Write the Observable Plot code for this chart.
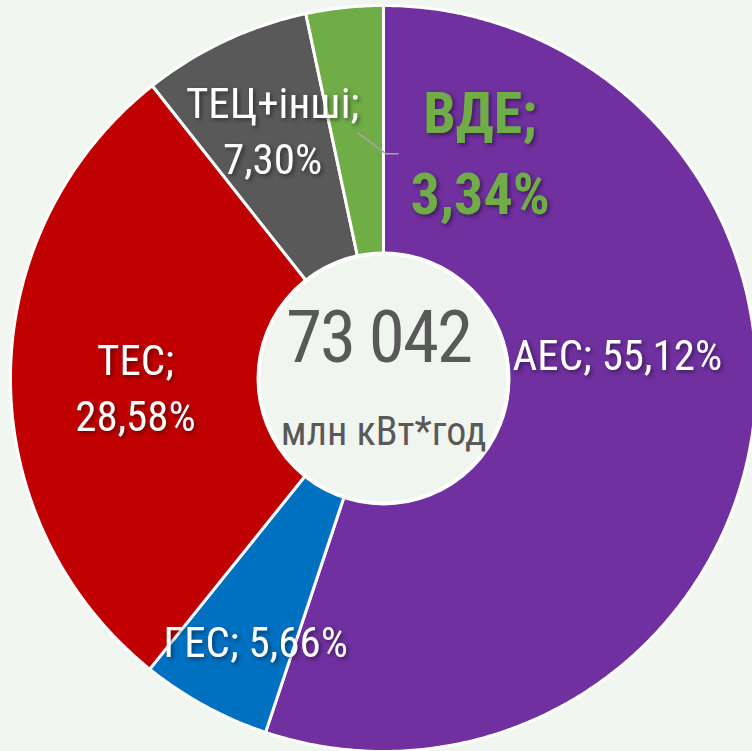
<!DOCTYPE html>
<html><head><meta charset="utf-8">
<script src="https://cdn.jsdelivr.net/npm/d3@7"></script>
<script src="https://cdn.jsdelivr.net/npm/@observablehq/plot@0.6"></script>
<style>
html,body{margin:0;padding:0;background:#f2f6f0;}
#chart svg{display:block;}
</style></head><body><div id="chart"></div>
<script>
// ---- data ----
const categories = ["АЕС", "ГЕС", "ТЕС", "ТЕЦ+інші", "ВДЕ"];
const shares = [55.12, 5.66, 28.58, 7.30, 3.34];
const colors = ["#7030a0", "#0070c0", "#c00000", "#595959", "#70ad47"];
const totalValue = "73 042";
const totalUnit = "млн кВт*год";

// ---- layout ----
const W = 752, H = 751, CX = 383, CY = 378, R = 373, R0 = 125;
const FONT = "'Liberation Sans Narrow', 'Roboto Condensed', 'DejaVu Sans Condensed', sans-serif";
const fmt = v => v.toFixed(2).replace(".", ",") + "%";
const rows = categories.map((name, i) => ({name, share: shares[i]}));
const arcs = d3.pie().sort(null).value(d => d.share).startAngle(0).endAngle(2 * Math.PI)(rows);

const poly = [];
arcs.forEach(a => {
  const n = Math.max(2, Math.ceil((a.endAngle - a.startAngle) / (Math.PI / 360)));
  poly.push({name: a.data.name, x: 0, y: 0});
  for (let k = 0; k <= n; k++) {
    const t = a.startAngle + (a.endAngle - a.startAngle) * k / n;
    poly.push({name: a.data.name, x: R * Math.sin(t), y: R * Math.cos(t)});
  }
});

const centroid = (a, r) => {
  const t = (a.startAngle + a.endAngle) / 2;
  return [r * Math.sin(t), r * Math.cos(t)];
};
// per-label nudges (pixels, y up) and line breaks
const nudge = {"АЕС": [-5, 65, false], "ГЕС": [-12, -48, false], "ТЕС": [-6, -8, true], "ТЕЦ+інші": [-8, 31, true], "ВДЕ": [122, -10, true]};
const labels = arcs.map(a => {
  const [cx, cy] = centroid(a, 242);
  const [dx, dy, br] = nudge[a.data.name];
  return {name: a.data.name, x: cx + dx, y: cy + dy, text: a.data.name + ";" + (br ? "\n" : " ") + fmt(a.data.share)};
});
const whiteLabels = labels.filter(d => d.name !== "ВДЕ");
const greenLabel = labels.filter(d => d.name === "ВДЕ");
const vdeArc = arcs.find(a => a.data.name === "ВДЕ");
const [lx0, ly0] = centroid(vdeArc, 247);
const gl = greenLabel[0];
const leader = [{x: lx0, y: ly0}, {x: gl.x - 94, y: gl.y - 6}, {x: gl.x - 82, y: gl.y - 6}];

const plot = Plot.plot({
  width: W, height: H, margin: 0,
  x: {domain: [-CX, W - CX], axis: null},
  y: {domain: [-(H - CY), CY], axis: null},
  color: {domain: categories, range: colors},
  style: {background: "#f2f6f0", fontFamily: FONT},
  marks: [
    Plot.line(poly, {x: "x", y: "y", z: "name", fill: "name", stroke: "white", strokeWidth: 3, strokeLinejoin: "round", curve: "linear-closed"}),
    Plot.dot([{x: 0, y: 0}], {x: "x", y: "y", r: R0, fill: "#f1f5ef", stroke: "white", strokeWidth: 4}),
    Plot.line(leader, {x: "x", y: "y", stroke: "#a6a6a6", strokeWidth: 1.5}),
    Plot.text(whiteLabels, {x: "x", y: "y", text: "text", fill: "white", fontSize: 43, lineHeight: 1.3, fontFamily: FONT}),
    Plot.text(greenLabel, {x: "x", y: "y", text: "text", fill: "#70ad47", fontSize: 58, fontWeight: "bold", lineHeight: 1.4, fontFamily: FONT}),
    Plot.text([totalValue], {x: () => -5, y: () => 40, text: d => d, fill: "#595959", fontSize: 73, fontFamily: FONT}),
    Plot.text([totalUnit], {x: () => 0, y: () => -54, text: d => d, fill: "#595959", fontSize: 40, fontFamily: FONT})
  ]
});
const groups = plot.querySelectorAll('g[aria-label="text"]');
[0, 1].forEach(i => { if (groups[i]) groups[i].style.filter = "drop-shadow(2px 2px 2px rgba(0,0,0,0.45))"; });
if (groups[2]) groups[2].style.letterSpacing = "-2px";
document.getElementById("chart").appendChild(plot);
</script></body></html>
